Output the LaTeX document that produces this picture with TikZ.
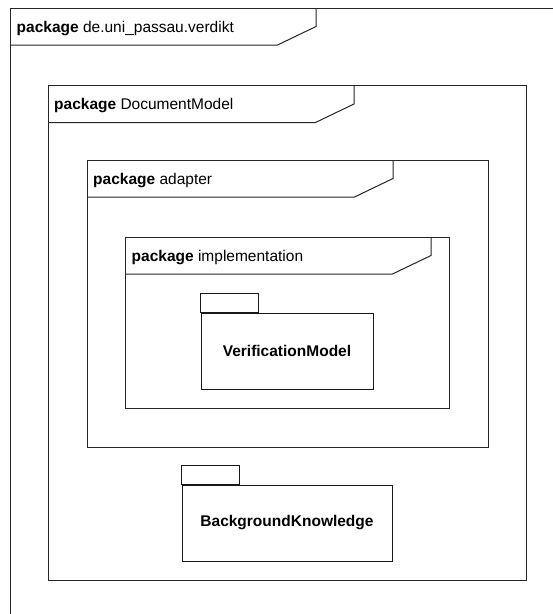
\documentclass[tikz,border=0pt]{standalone}
\usepackage{fontspec}
\setmainfont{Liberation Sans}
\usetikzlibrary{fit}

% UML package frame: #1 name, #2/#3 top left, #4/#5 bottom right,
% #6 right end of the name tab, #7 package name
\newcommand\pkgframe[7]{%
  \node[frame, fit={(#2,#3) (#4,#5)}] (#1) {};
  \draw[frame] (#6,#3) -- (#6,{#3+18.5}) -- ({#6-38.5},{#3+37}) -- (#2,{#3+37});
  \node[frametitle] (#1-title) at ({#2+6},{#3+24}) {\textbf{package} #7};
}

\begin{document}
\begin{tikzpicture}[x=1pt, y=-1pt,
  frame/.style={draw=black!85, line width=1pt, inner sep=0pt},
  frametitle/.style={anchor=base west, inner sep=0pt, font=\fontsize{15.5}{18}\selectfont},
  pkgbody/.style={draw=black!90, line width=1pt, inner sep=0pt,
    font=\fontsize{15.5}{18}\selectfont\bfseries},
  pkgtab/.style={draw=black!90, line width=1pt}]
\useasboundingbox (0,0) rectangle (553,614);
\clip (0,0) rectangle (553,614);
\fill[white] (0,0) rectangle (553,614);

\pkgframe{verdikt}{10.5}{8}{620}{700}{316}{de.uni\_passau.verdikt}
\pkgframe{documentmodel}{48}{85.5}{526}{580}{354}{DocumentModel}
\pkgframe{adapter}{87}{160}{488}{447}{393}{adapter}
\pkgframe{implementation}{125.5}{237}{449}{408}{431}{implementation}

% packages shown as folder icons
\node[pkgbody, minimum width=172pt, minimum height=76pt] (verificationmodel) at (287,351) {VerificationModel};
\draw[pkgtab] (verificationmodel.north west) rectangle ++(58,-19);

\node[pkgbody, minimum width=210pt, minimum height=76pt] (backgroundknowledge) at (287,523) {BackgroundKnowledge};
\draw[pkgtab] (backgroundknowledge.north west) rectangle ++(58,-19);
\end{tikzpicture}
\end{document}
